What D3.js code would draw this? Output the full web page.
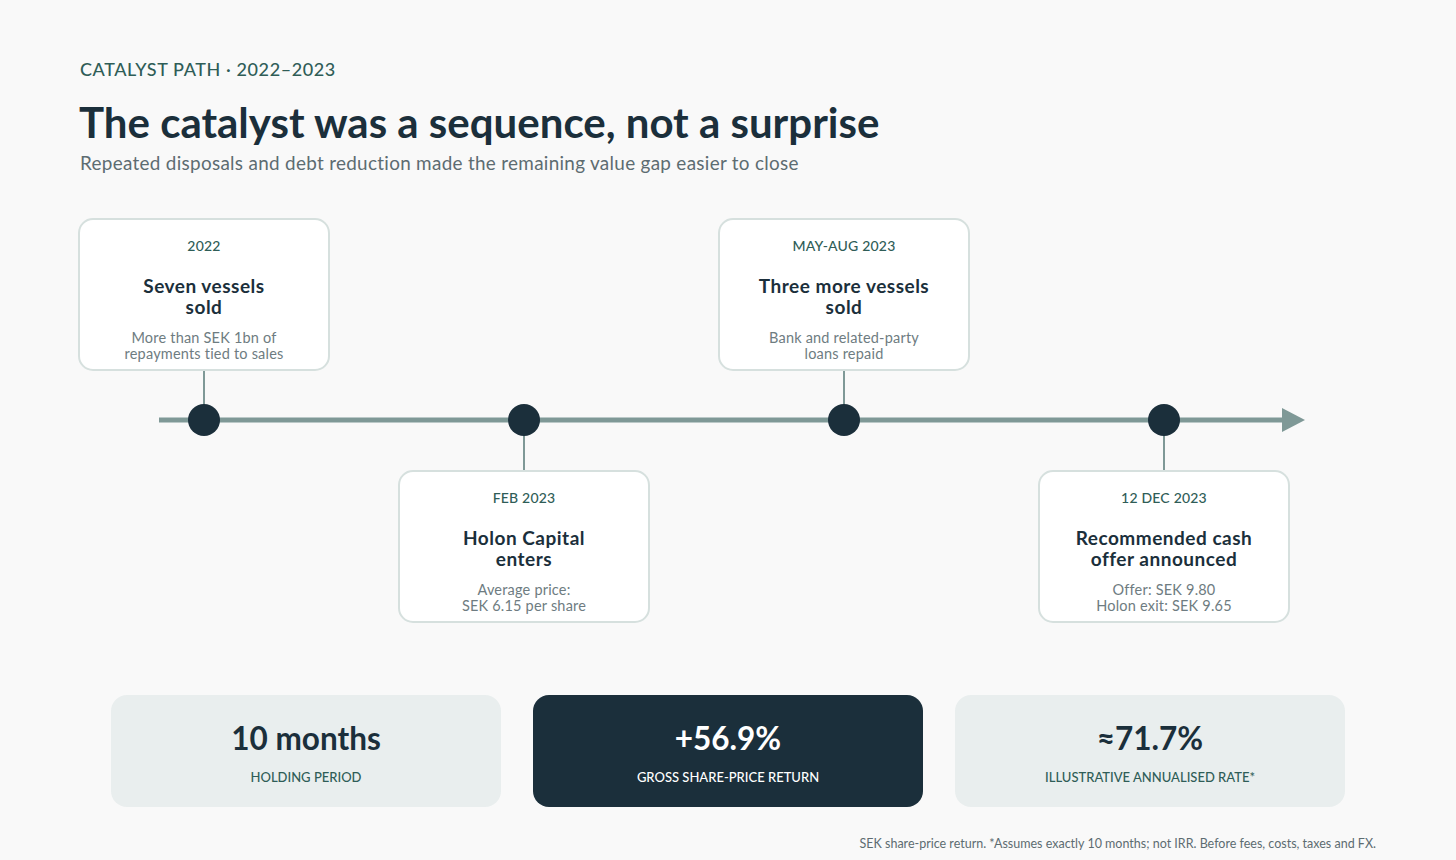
<!DOCTYPE html>
<html>
<head>
<meta charset="utf-8">
<script src="https://cdn.jsdelivr.net/npm/d3@7"></script>
<style>
  html, body { margin: 0; padding: 0; background: #f9f9f9; }
  svg { display: block; font-family: Lato, "Open Sans", sans-serif; }
</style>
</head>
<body>
<div id="chart"></div>
<script>
// timeline events
const eventDates = ["2022", "FEB 2023", "MAY-AUG 2023", "12 DEC 2023"];
const eventTitles = [
  ["Seven vessels", "sold"],
  ["Holon Capital", "enters"],
  ["Three more vessels", "sold"],
  ["Recommended cash", "offer announced"]
];
const eventNotes = [
  ["More than SEK 1bn of", "repayments tied to sales"],
  ["Average price:", "SEK 6.15 per share"],
  ["Bank and related-party", "loans repaid"],
  ["Offer: SEK 9.80", "Holon exit: SEK 9.65"]
];
const eventSide = ["top", "bottom", "top", "bottom"];

// summary figures
const kpiValues = ["10 months", "+56.9%", "\u224871.7%"];
const kpiLabels = ["HOLDING PERIOD", "GROSS SHARE-PRICE RETURN", "ILLUSTRATIVE ANNUALISED RATE*"];
const kpiDark = [false, true, false];

const width = 1456, height = 860;
const ink = "#1b2f3b", teal = "#2f5d57", rail = "#7f9997";

const svg = d3.select("#chart").append("svg")
    .attr("width", width)
    .attr("height", height);

svg.append("rect").attr("width", width).attr("height", height).attr("fill", "#f9f9f9");

// header
svg.append("text")
    .attr("x", 80).attr("y", 76)
    .attr("fill", teal)
    .style("font-size", "18px").style("font-weight", 500)
    .style("letter-spacing", "0.6px")
    .text("CATALYST PATH \u00b7 2022\u20132023");

svg.append("text")
    .attr("x", 79).attr("y", 138)
    .attr("fill", ink)
    .style("font-size", "42px").style("font-weight", 700)
    .text("The catalyst was a sequence, not a surprise");

svg.append("text")
    .attr("x", 80).attr("y", 170)
    .attr("fill", "#5d6c71")
    .style("font-size", "18.9px")
    .style("letter-spacing", "0.3px")
    .text("Repeated disposals and debt reduction made the remaining value gap easier to close");

// timeline
const lineY = 420;
const x = d3.scalePoint()
    .domain(d3.range(eventDates.length))
    .range([204, 1164]);

svg.append("line")
    .attr("x1", 159).attr("x2", 1288)
    .attr("y1", lineY).attr("y2", lineY)
    .attr("stroke", rail).attr("stroke-width", 5);

svg.append("path")
    .attr("d", `M1282,${lineY - 12} L1305,${lineY} L1282,${lineY + 12} Z`)
    .attr("fill", rail);

const cardW = 250, cardH = 151;
const cardTop = side => side === "top" ? 219 : 471;

const ev = svg.selectAll(".event")
    .data(eventDates.map((d, i) => ({ i, date: d, title: eventTitles[i], note: eventNotes[i], side: eventSide[i] })))
    .enter().append("g")
    .attr("class", "event");

// connectors
ev.append("line")
    .attr("x1", d => x(d.i)).attr("x2", d => x(d.i))
    .attr("y1", d => d.side === "top" ? cardTop("top") + cardH : lineY)
    .attr("y2", d => d.side === "top" ? lineY : cardTop("bottom"))
    .attr("stroke", rail).attr("stroke-width", 2);

ev.append("circle")
    .attr("cx", d => x(d.i)).attr("cy", lineY)
    .attr("r", 16)
    .attr("fill", ink);

const card = ev.append("g")
    .attr("transform", d => `translate(${x(d.i) - cardW / 2},${cardTop(d.side)})`);

card.append("rect")
    .attr("width", cardW).attr("height", cardH)
    .attr("rx", 14)
    .attr("fill", "#ffffff")
    .attr("stroke", "#d6e0de").attr("stroke-width", 2);

card.append("text")
    .attr("x", cardW / 2).attr("y", 27)
    .attr("dy", "0.35em")
    .attr("text-anchor", "middle")
    .attr("fill", teal)
    .style("font-size", "14px").style("font-weight", 500)
    .style("letter-spacing", "0.2px")
    .text(d => d.date);

card.each(function(d) {
  const g = d3.select(this);
  d.title.forEach((t, k) => {
    g.append("text")
      .attr("x", cardW / 2).attr("y", 67.5 + k * 21)
      .attr("dy", "0.35em")
      .attr("text-anchor", "middle")
      .attr("fill", ink)
      .style("font-size", "19px").style("font-weight", 700)
      .style("letter-spacing", "0.5px")
      .text(t);
  });
  d.note.forEach((t, k) => {
    g.append("text")
      .attr("x", cardW / 2).attr("y", 119 + k * 16)
      .attr("dy", "0.35em")
      .attr("text-anchor", "middle")
      .attr("fill", "#6e7c81")
      .style("font-size", "14.5px")
      .style("letter-spacing", "0.2px")
      .text(t);
  });
});

// summary boxes
const kx = d3.scaleBand()
    .domain(d3.range(kpiValues.length))
    .range([111, 1345])
    .paddingInner(32 / 422);

const kpi = svg.selectAll(".kpi")
    .data(kpiValues)
    .enter().append("g")
    .attr("class", "kpi")
    .attr("transform", (d, i) => `translate(${kx(i)},695)`);

kpi.append("rect")
    .attr("width", kx.bandwidth()).attr("height", 112)
    .attr("rx", 16)
    .attr("fill", (d, i) => kpiDark[i] ? ink : "#e9eeee");

kpi.append("text")
    .attr("x", kx.bandwidth() / 2).attr("y", 44)
    .attr("dy", "0.35em")
    .attr("text-anchor", "middle")
    .attr("fill", (d, i) => kpiDark[i] ? "#ffffff" : ink)
    .style("font-size", "31.5px").style("font-weight", 700)
    .text(d => d);

kpi.append("text")
    .attr("x", kx.bandwidth() / 2).attr("y", 82)
    .attr("dy", "0.35em")
    .attr("text-anchor", "middle")
    .attr("fill", (d, i) => kpiDark[i] ? "#ffffff" : teal)
    .style("font-size", "13px").style("font-weight", 500)
    .text((d, i) => kpiLabels[i]);

svg.append("text")
    .attr("x", 1376).attr("y", 848)
    .attr("text-anchor", "end")
    .attr("fill", "#5d6c71")
    .style("font-size", "12.5px")
    .text("SEK share-price return. *Assumes exactly 10 months; not IRR. Before fees, costs, taxes and FX.");
</script>
</body>
</html>
